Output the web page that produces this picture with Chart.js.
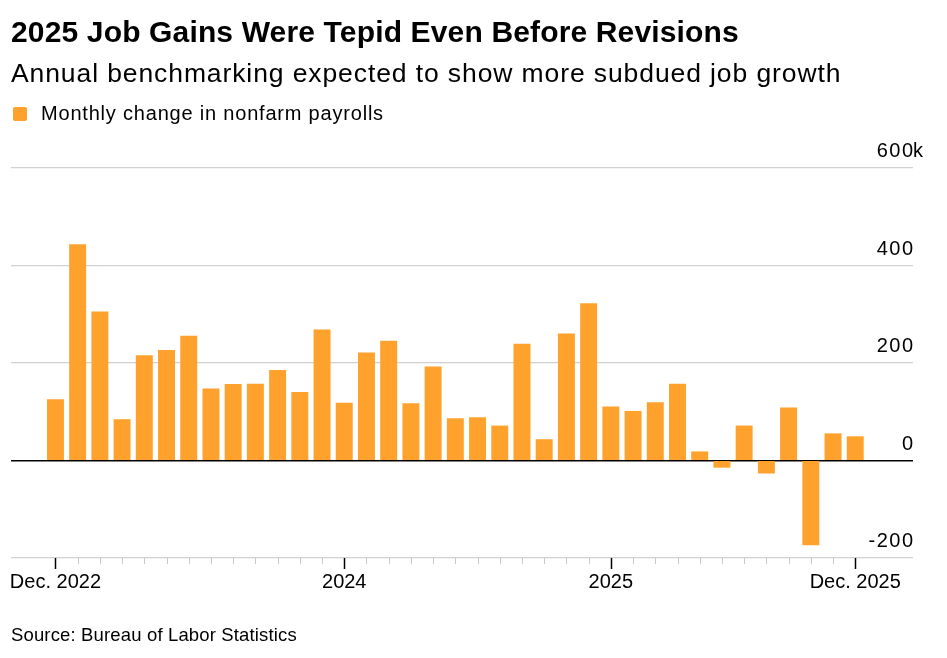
<!DOCTYPE html>
<html>
<head>
<meta charset="utf-8">
<script src="https://cdn.jsdelivr.net/npm/chart.js@4"></script>
<style>
  body { margin: 0; background: #fff; font-family: "Liberation Sans", Arial, sans-serif; color: #000; }
  #wrap { position: relative; width: 947px; height: 658px; overflow: hidden; }
  #myChart { position: absolute; left: 0; top: 0; }
  .title { position: absolute; left: 11px; top: 15px; font-size: 30px; font-weight: bold; letter-spacing: 0.15px; white-space: nowrap; }
  .subtitle { position: absolute; left: 11px; top: 58px; font-size: 26.5px; letter-spacing: 0.9px; white-space: nowrap; }
  .legend-box { position: absolute; left: 13px; top: 107px; width: 14px; height: 14px; background: #ffa22d; border-radius: 2px; }
  .legend { position: absolute; left: 41px; top: 102px; font-size: 20px; letter-spacing: 0.8px; white-space: nowrap; }
  .source { position: absolute; left: 11px; top: 624px; font-size: 18.5px; letter-spacing: 0.15px; white-space: nowrap; }
</style>
</head>
<body>
<div id="wrap">
  <canvas id="myChart" width="947" height="658"></canvas>
  <div class="title">2025 Job Gains Were Tepid Even Before Revisions</div>
  <div class="subtitle">Annual benchmarking expected to show more subdued job growth</div>
  <div class="legend-box"></div>
  <div class="legend">Monthly change in nonfarm payrolls</div>
  <div class="source">Source: Bureau of Labor Statistics</div>
</div>
<script>
"use strict";
// Dec. 2022 .. Dec. 2025, thousands
const months = [
  "Dec. 2022", "Jan. 2023", "Feb. 2023", "Mar. 2023", "Apr. 2023", "May 2023",
  "Jun. 2023", "Jul. 2023", "Aug. 2023", "Sep. 2023", "Oct. 2023", "Nov. 2023",
  "Dec. 2023", "Jan. 2024", "Feb. 2024", "Mar. 2024", "Apr. 2024", "May 2024",
  "Jun. 2024", "Jul. 2024", "Aug. 2024", "Sep. 2024", "Oct. 2024", "Nov. 2024",
  "Dec. 2024", "Jan. 2025", "Feb. 2025", "Mar. 2025", "Apr. 2025", "May 2025",
  "Jun. 2025", "Jul. 2025", "Aug. 2025", "Sep. 2025", "Oct. 2025", "Nov. 2025",
  "Dec. 2025"
];
const payrolls = [
  125, 443, 305, 84, 215, 226, 255, 147, 156, 157, 185, 140,
  268, 118, 221, 245, 117, 192, 86, 88, 71, 239, 43, 260,
  322, 110, 101, 119, 157, 18, -14, 71, -26, 108, -173, 55,
  49
];
const xTickIndex = [0, 13, 25, 36];
const xTickText = ["Dec. 2022", "2024", "2025", "Dec. 2025"];
const yTicks = [-200, 0, 200, 400, 600];

const barColor = "#ffa22d";
const labelFont = '"Liberation Sans", Arial, sans-serif';

// y labels sit above their gridlines, "k" hangs past the right edge
const yLabels = {
  id: "yLabels",
  afterDatasetsDraw(chart) {
    const { ctx, chartArea, scales } = chart;
    ctx.save();
    ctx.font = "20px " + labelFont;
    ctx.letterSpacing = "1.5px";
    ctx.fillStyle = "#000";
    ctx.textBaseline = "middle";
    for (const v of yTicks) {
      const y = scales.y.getPixelForValue(v) - 16.5;
      ctx.textAlign = "right";
      ctx.fillText(String(v), chartArea.right + 1.5, y);
      if (v === yTicks[yTicks.length - 1]) {
        ctx.textAlign = "left";
        ctx.fillText("k", chartArea.right, y);
      }
    }
    ctx.restore();
  },
};

// monthly tick marks under the axis, long ones where labelled
const monthTicks = {
  id: "monthTicks",
  afterDraw(chart) {
    const { ctx, chartArea, scales } = chart;
    ctx.save();
    months.forEach((m, i) => {
      const x = Math.round(scales.x.getPixelForValue(i)) + 0.5;
      const major = xTickIndex.includes(i);
      ctx.strokeStyle = major ? "#000" : "#c8c8c8";
      ctx.lineWidth = major ? 1.5 : 1;
      ctx.beginPath();
      ctx.moveTo(x, chartArea.bottom);
      ctx.lineTo(x, chartArea.bottom + (major ? 11 : 6));
      ctx.stroke();
    });
    ctx.restore();
  },
};

const createChart = () => {
  const ctx = document.getElementById("myChart").getContext("2d");
  return new Chart(ctx, {
    type: "bar",
    data: {
      datasets: [
        {
          label: "Monthly change in nonfarm payrolls",
          data: payrolls.map((v, i) => ({ x: i, y: v })),
          backgroundColor: barColor,
          barThickness: 16.3,
        },
      ],
    },
    options: {
      responsive: false,
      animation: false,
      devicePixelRatio: 1,
      layout: { padding: { top: 168, left: 11, right: 34, bottom: 52 } },
      plugins: { legend: { display: false }, tooltip: { enabled: false } },
      scales: {
        x: {
          type: "linear",
          min: -2,
          max: 38.6,
          offset: false,
          afterBuildTicks: (scale) => {
            scale.ticks = xTickIndex.map((v) => ({ value: v }));
          },
          afterFit: (scale) => {
            scale.paddingLeft = 0;
            scale.paddingRight = 0;
          },
          grid: { display: false, drawTicks: false, offset: false },
          border: { display: false },
          ticks: {
            autoSkip: false,
            maxRotation: 0,
            padding: 12,
            color: "#000",
            font: { size: 20, family: labelFont },
            callback: (v) => xTickText[xTickIndex.indexOf(v)],
          },
        },
        y: {
          position: "right",
          min: -200,
          max: 600,
          afterBuildTicks: (scale) => {
            scale.ticks = yTicks.map((v) => ({ value: v }));
          },
          grid: {
            drawTicks: false,
            color: (c) => (c.tick && c.tick.value === 0 ? "#000" : "#d0d0d0"),
            lineWidth: (c) => (c.tick && c.tick.value === 0 ? 1.6 : 1.2),
          },
          border: { display: false },
          ticks: { display: false },
        },
      },
    },
    plugins: [yLabels, monthTicks],
  });
};

createChart();
</script>
</body>
</html>
